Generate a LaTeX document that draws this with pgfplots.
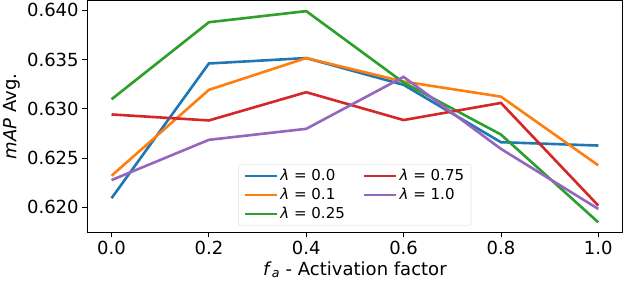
\documentclass[border=0pt]{standalone}
\usepackage{fontspec}
\setmainfont{DejaVu Sans}
\usepackage{pgfplots}
\pgfplotsset{compat=1.18}
\definecolor{c0}{HTML}{1F77B4}
\definecolor{c1}{HTML}{FF7F0E}
\definecolor{c2}{HTML}{2CA02C}
\definecolor{c3}{HTML}{D62728}
\definecolor{c4}{HTML}{9467BD}
\begin{document}
\begin{tikzpicture}
\begin{axis}[
  scale only axis, width=533bp, height=231bp,
  xmin=-0.05, xmax=1.05, ymin=0.61744, ymax=0.64102,
  xtick={0,0.2,0.4,0.6,0.8,1.0},
  ytick={0.620,0.625,0.630,0.635,0.640},
  scaled y ticks=false, scaled x ticks=false,
  yticklabel style={/pgf/number format/.cd, fixed, fixed zerofill, precision=3},
  xticklabel style={/pgf/number format/.cd, fixed, fixed zerofill, precision=1},
  /pgf/number format/assume math mode=true,
  tick align=outside, tick pos=left, major tick length=5bp,
  every tick/.style={black, line width=0.8bp},
  axis line style={line width=0.8bp},
  tick label style={font=\fontsize{18}{21}\selectfont},
  label style={font=\fontsize{18}{21}\selectfont},
  xlabel={\textit{f}\textsubscript{\textit{a}} - Activation factor},
  ylabel={\textit{mAP} Avg.},
  legend columns=2,
  legend style={at={(0.5,0.03)}, anchor=south, font=\fontsize{15}{21}\selectfont,
    draw=black!15, rounded corners=2pt, inner xsep=5bp, inner ysep=3bp,
    row sep=2bp,
    /tikz/every even column/.append style={column sep=16bp}},
  legend cell align=left,
  legend image code/.code={\draw[#1, line width=2.6bp] (0bp,0bp) -- (32bp,0bp);},
  every axis plot/.append style={line width=2.6bp},
]
\addlegendimage{c0}\addlegendentry{\textit{λ} = 0.0}
\addlegendimage{c3}\addlegendentry{\textit{λ} = 0.75}
\addlegendimage{c1}\addlegendentry{\textit{λ} = 0.1}
\addlegendimage{c4}\addlegendentry{\textit{λ} = 1.0}
\addlegendimage{c2}\addlegendentry{\textit{λ} = 0.25}
\addplot[c0, forget plot] coordinates {(0,0.62092)(0.2,0.63461)(0.4,0.63516)(0.6,0.63244)(0.8,0.62661)(1.0,0.62627)};
\addplot[c1, forget plot] coordinates {(0,0.62320)(0.2,0.63193)(0.4,0.63516)(0.6,0.63277)(0.8,0.63124)(1.0,0.62426)};
\addplot[c2, forget plot] coordinates {(0,0.63097)(0.2,0.63880)(0.4,0.63993)(0.6,0.63267)(0.8,0.62739)(1.0,0.61847)};
\addplot[c3, forget plot] coordinates {(0,0.62943)(0.2,0.62882)(0.4,0.63169)(0.6,0.62886)(0.8,0.63060)(1.0,0.62017)};
\addplot[c4, forget plot] coordinates {(0,0.62276)(0.2,0.62685)(0.4,0.62797)(0.6,0.63325)(0.8,0.62593)(1.0,0.61983)};
\end{axis}
\end{tikzpicture}
\end{document}
